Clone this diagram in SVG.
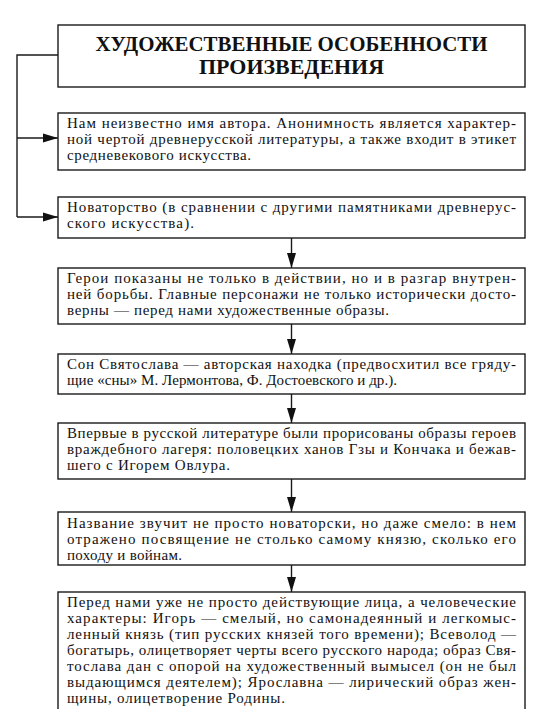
<svg xmlns="http://www.w3.org/2000/svg" width="537" height="709" viewBox="0 0 537 709" font-family="Liberation Serif, DejaVu Serif, serif">
<style>
.box{fill:#fff;stroke:#1a1a1a;stroke-width:1.4}
.t{font-size:15px;fill:#111}
.title{font-size:21px;font-weight:bold;fill:#111;text-anchor:middle}
.ln{fill:none;stroke:#1a1a1a;stroke-width:1.4}
</style>
<defs>
<marker id="ah" markerWidth="15" markerHeight="10" refX="15" refY="5" orient="auto" markerUnits="userSpaceOnUse">
<path d="M0,0.5 L15,5 L0,9.5 Z" fill="#111"/>
</marker>
</defs>
<rect width="537" height="709" fill="#fff"/>
<g id="connectors">
<path class="ln" d="M58,55 H17 V217"/>
<path class="ln" d="M17,138 H58" marker-end="url(#ah)"/>
<path class="ln" d="M17,217 H58" marker-end="url(#ah)"/>
<path class="ln" d="M291.5,238 V268" marker-end="url(#ah)"/>
<path class="ln" d="M291.5,324 V354" marker-end="url(#ah)"/>
<path class="ln" d="M291.5,394 V423" marker-end="url(#ah)"/>
<path class="ln" d="M291.5,479 V512" marker-end="url(#ah)"/>
<path class="ln" d="M291.5,565 V592" marker-end="url(#ah)"/>
</g>
<g id="title">
<rect class="box" x="58" y="25" width="467" height="62"/>
<text class="title" x="291.5" y="51" textLength="392" lengthAdjust="spacingAndGlyphs">ХУДОЖЕСТВЕННЫЕ ОСОБЕННОСТИ</text>
<text class="title" x="291.5" y="74" textLength="185" lengthAdjust="spacingAndGlyphs">ПРОИЗВЕДЕНИЯ</text>
</g>
<g id="box1">
<rect class="box" x="58" y="113" width="467" height="57"/>
<text class="t" x="67" y="128" textLength="449" lengthAdjust="spacing">Нам неизвестно имя автора. Анонимность является характер-</text>
<text class="t" x="67" y="144" textLength="449" lengthAdjust="spacing">ной чертой древнерусской литературы, а также входит в этикет</text>
<text class="t" x="67" y="160" textLength="184" lengthAdjust="spacing">средневекового искусства.</text>
</g>
<g id="box2">
<rect class="box" x="58" y="197" width="467" height="41"/>
<text class="t" x="67" y="212" textLength="449" lengthAdjust="spacing">Новаторство (в сравнении с другими памятниками древнерус-</text>
<text class="t" x="67" y="228" textLength="127" lengthAdjust="spacing">ского искусства).</text>
</g>
<g id="box3">
<rect class="box" x="58" y="268" width="467" height="56"/>
<text class="t" x="67" y="283" textLength="449" lengthAdjust="spacing">Герои показаны не только в действии, но и в разгар внутрен-</text>
<text class="t" x="67" y="299" textLength="449" lengthAdjust="spacing">ней борьбы. Главные персонажи не только исторически досто-</text>
<text class="t" x="67" y="315" textLength="322" lengthAdjust="spacing">верны — перед нами художественные образы.</text>
</g>
<g id="box4">
<rect class="box" x="58" y="354" width="467" height="40"/>
<text class="t" x="67" y="369" textLength="449" lengthAdjust="spacing">Сон Святослава — авторская находка (предвосхитил все гряду-</text>
<text class="t" x="67" y="385" textLength="330" lengthAdjust="spacing">щие «сны» М. Лермонтова, Ф. Достоевского и др.).</text>
</g>
<g id="box5">
<rect class="box" x="58" y="423" width="467" height="56"/>
<text class="t" x="67" y="438" textLength="449" lengthAdjust="spacing">Впервые в русской литературе были прорисованы образы героев</text>
<text class="t" x="67" y="454" textLength="449" lengthAdjust="spacing">враждебного лагеря: половецких ханов Гзы и Кончака и бежав-</text>
<text class="t" x="67" y="470" textLength="163" lengthAdjust="spacing">шего с Игорем Овлура.</text>
</g>
<g id="box6">
<rect class="box" x="58" y="512" width="467" height="53"/>
<text class="t" x="67" y="528" textLength="449" lengthAdjust="spacing">Название звучит не просто новаторски, но даже смело: в нем</text>
<text class="t" x="67" y="544" textLength="449" lengthAdjust="spacing">отражено посвящение не столько самому князю, сколько его</text>
<text class="t" x="67" y="560" textLength="115" lengthAdjust="spacing">походу и войнам.</text>
</g>
<g id="box7">
<rect class="box" x="58" y="592" width="467" height="125"/>
<text class="t" x="67" y="607" textLength="449" lengthAdjust="spacing">Перед нами уже не просто действующие лица, а человеческие</text>
<text class="t" x="67" y="623" textLength="449" lengthAdjust="spacing">характеры: Игорь — смелый, но самонадеянный и легкомыс-</text>
<text class="t" x="67" y="639" textLength="449" lengthAdjust="spacing">ленный князь (тип русских князей того времени); Всеволод —</text>
<text class="t" x="67" y="655" textLength="449" lengthAdjust="spacing">богатырь, олицетворяет черты всего русского народа; образ Свя-</text>
<text class="t" x="67" y="671" textLength="449" lengthAdjust="spacing">тослава дан с опорой на художественный вымысел (он не был</text>
<text class="t" x="67" y="687" textLength="449" lengthAdjust="spacing">выдающимся деятелем); Ярославна — лирический образ жен-</text>
<text class="t" x="67" y="703" textLength="218" lengthAdjust="spacing">щины, олицетворение Родины.</text>
</g>
</svg>
